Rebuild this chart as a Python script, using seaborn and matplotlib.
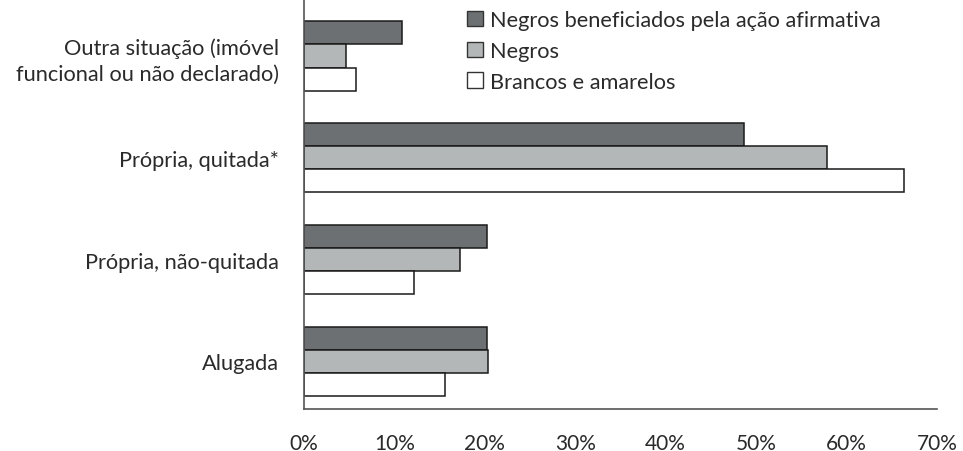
import matplotlib
matplotlib.use("Agg")
import matplotlib.pyplot as plt
import seaborn as sns
import pandas as pd
from matplotlib.patches import Patch

categories = ["Outra situação (imóvel\nfuncional ou não declarado)",
              "Própria, quitada*",
              "Própria, não-quitada",
              "Alugada"]
series = ["Negros beneficiados pela ação afirmativa", "Negros", "Brancos e amarelos"]
vals_benef = [10.8, 48.7, 20.2, 20.2]
vals_negros = [4.6, 57.8, 17.2, 20.4]
vals_brancos = [5.8, 66.4, 12.2, 15.6]
xticks = [0, 10, 20, 30, 40, 50, 60, 70]
colors = ["#6d7072", "#b4b7b7", "#ffffff"]

rows = []
for s, vals in zip(series, [vals_benef, vals_negros, vals_brancos]):
    for c, v in zip(categories, vals):
        rows.append({"cat": c, "serie": s, "val": v})
df = pd.DataFrame(rows)

sns.set_style("white")
plt.rcParams['font.family'] = ['Lato', 'DejaVu Sans']

fig = plt.figure(figsize=(9.63, 4.52), dpi=100)
ax = fig.add_axes([304/963, 1 - 410/452, (937-304)/963, 410/452])

sns.barplot(data=df, y="cat", x="val", hue="serie", order=categories,
            hue_order=series, palette=colors, edgecolor="#1a1a1a",
            linewidth=1.1, width=0.68, ax=ax, legend=False, saturation=1)

ax.set_xlim(0, 70)
ax.set_ylim(3.468, -0.56)
ax.set_xticks(xticks)
ax.set_xticklabels([f"{t}%" for t in xticks], fontsize=15, color="#2a2a2a")
ax.set_ylabel("")
ax.set_xlabel("")
ax.tick_params(axis="y", labelsize=15.7, colors="#2a2a2a", length=0, pad=18)
ax.tick_params(axis="x", length=0, pad=17)
for lab in ax.get_yticklabels():
    lab.set_horizontalalignment("right")
    lab.set_multialignment("right")
    lab.set_linespacing(1.35)
for sp in ["top", "right"]:
    ax.spines[sp].set_visible(False)
for sp in ["left", "bottom"]:
    ax.spines[sp].set_color("#555555")
    ax.spines[sp].set_linewidth(1.2)

handles = [Patch(facecolor=c, edgecolor="#333333", linewidth=1.0) for c in colors]
leg = ax.legend(handles, series, loc="upper left",
                bbox_to_anchor=(467/963, 1 - 11/452), bbox_transform=fig.transFigure,
                frameon=False, fontsize=15.7, handlelength=0.72, handleheight=0.72,
                handletextpad=0.35, labelspacing=0.5, borderaxespad=0, borderpad=0)
for t in leg.get_texts():
    t.set_color("#2a2a2a")

fig.savefig("out.png", dpi=100)
